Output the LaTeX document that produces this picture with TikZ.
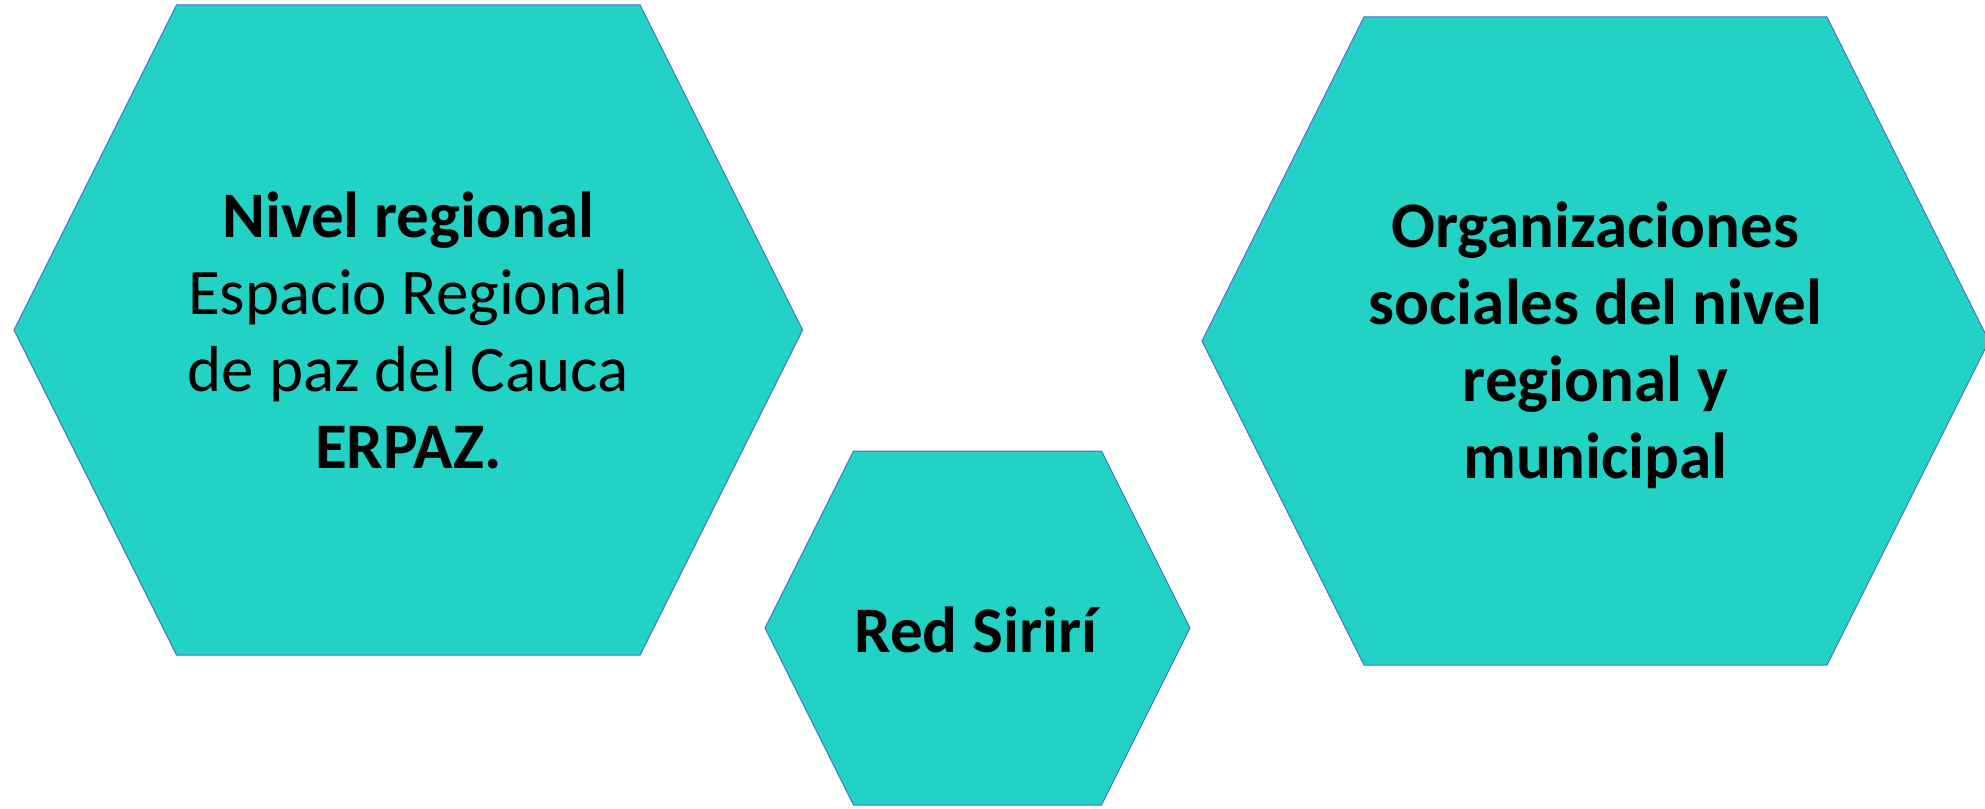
\documentclass[tikz,border=0pt]{standalone}
\usepackage{fontspec}
\setmainfont{Carlito}
\usepackage{tikz}
\definecolor{turquesa}{RGB}{34,211,197}
\definecolor{borde}{RGB}{68,114,196}
\tikzset{
        hexa/.style={fill=turquesa, draw=borde, line width=0.5pt}, % hexagon look
        rotulo/.style={align=center, text=black, inner sep=0pt, font=\fontsize{32.5}{38.5}\selectfont}, % text in hexagons
    }
% hexagon: centre x, centre y, half width, half height
\newcommand{\hexagono}[4]{
    \draw[hexa] (#1-#3,#2) -- (#1-#3+#4/2,#2-#4) -- (#1+#3-#4/2,#2-#4)
        -- (#1+#3,#2) -- (#1+#3-#4/2,#2+#4) -- (#1-#3+#4/2,#2+#4) -- cycle;
}

\begin{document}
\begin{tikzpicture}[x=0.5pt,y=-0.5pt]
    \useasboundingbox (0,0) rectangle (1985,808);
    \clip (0,0) rectangle (1985,808);
    \hexagono{408.3}{330}{394.3}{325}
    \hexagono{977.5}{628}{212.5}{177}
    \hexagono{1595.5}{341}{393.5}{324}
    \node[rotulo] (erpaz) at (408.3,330) {\textbf{Nivel regional}\\Espacio Regional\\de paz del Cauca\\\textbf{ERPAZ.}};
    \node[rotulo] (siriri) at (977.5,630) {\textbf{Red Sirirí}};
    \node[rotulo] (organizaciones) at (1595.5,345) {\textbf{Organizaciones}\\\textbf{sociales del nivel}\\\textbf{regional y}\\\textbf{municipal}};
\end{tikzpicture}
\end{document}
